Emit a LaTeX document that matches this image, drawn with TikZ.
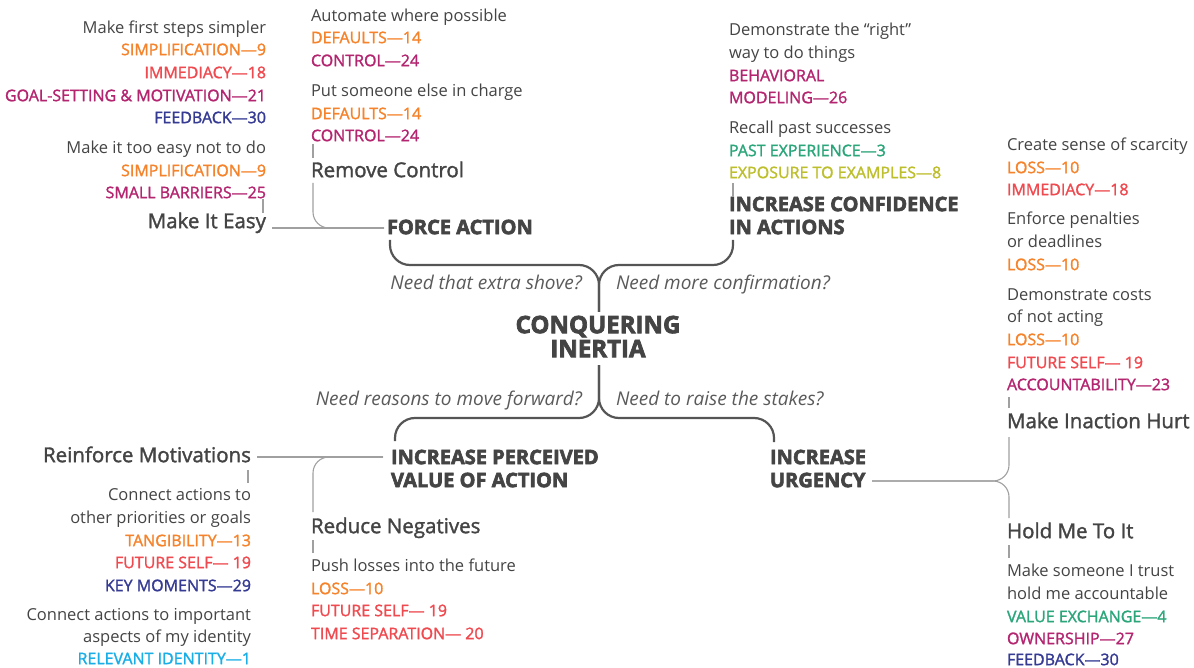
\documentclass[tikz,border=0pt]{standalone}
\usepackage{fontspec}
\setmainfont{Open Sans}
\IfFontExistsTF{Open Sans SemiBold}
  {\newfontfamily\semib{Open Sans SemiBold}}
  {\newfontfamily\semib[FakeBold=1.6]{Open Sans}}
\IfFontExistsTF{Open Sans ExtraBold}
  {\newfontfamily\xbold{Open Sans ExtraBold}}
  {\newfontfamily\xbold[FakeBold=3]{Open Sans Bold}}

\definecolor{ink}{HTML}{444444}
\definecolor{qgray}{HTML}{5A5A5A}
\definecolor{cOr}{HTML}{F5832B}
\definecolor{cRd}{HTML}{EE4A4F}
\definecolor{cMg}{HTML}{B42570}
\definecolor{cNv}{HTML}{353A93}
\definecolor{cGn}{HTML}{2BA57A}
\definecolor{cYl}{HTML}{BDBE2C}
\definecolor{cCy}{HTML}{1AAEE6}
\definecolor{stem}{HTML}{555555}
\definecolor{twigc}{HTML}{A0A0A0}

\tikzset{
  base/.style={inner sep=0pt, outer sep=0pt, yshift=-3.5pt},
  tx/.style={base, text=ink, font=\fontsize{16.5}{19}\selectfont},
  tag/.style={base, font=\semib\fontsize{16}{18}\selectfont},
  tOr/.style={tag, text=cOr},
  tRd/.style={tag, text=cRd},
  tMg/.style={tag, text=cMg},
  tNv/.style={tag, text=cNv},
  tGn/.style={tag, text=cGn},
  tYl/.style={tag, text=cYl},
  tCy/.style={tag, text=cCy},
  sub/.style={base, text=ink, font=\semib\fontsize{20.5}{23}\selectfont},
  head/.style={base, text=ink, font=\xbold\fontsize{20}{23}\selectfont},
  title/.style={base, text=ink, font=\xbold\fontsize{24}{27}\selectfont},
  quest/.style={base, text=qgray, font=\itshape\fontsize{19}{21}\selectfont},
  stemline/.style={draw=stem, line width=2.2pt, rounded corners=20pt},
  twig/.style={draw=twigc, line width=1.1pt, rounded corners=16pt},
}

\begin{document}
\begin{tikzpicture}[x=1pt,y=-1pt]
\useasboundingbox (0,0) rectangle (1194,668);

% ---- centre
\node[title, anchor=mid] (ci1) at (598,327) {CONQUERING};
\node[title, anchor=mid] (ci2) at (598,351) {INERTIA};

% ---- questions
\node[quest, anchor=mid east] (q1) at (582,283) {Need that extra shove?};
\node[quest, anchor=mid west] (q2) at (616,283) {Need more confirmation?};
\node[quest, anchor=mid east] (q3) at (582,399) {Need reasons to move forward?};
\node[quest, anchor=mid west] (q4) at (616,399) {Need to raise the stakes?};

% ---- four strategies
\node[head, anchor=mid west] (force) at (387,228) {FORCE ACTION};
\node[head, anchor=mid west] (conf1) at (729,205) {INCREASE CONFIDENCE};
\node[head, anchor=mid west] (conf2) at (729,228) {IN ACTIONS};
\node[head, anchor=mid west] (val1) at (391,458) {INCREASE PERCEIVED};
\node[head, anchor=mid west] (val2) at (391,481) {VALUE OF ACTION};
\node[head, anchor=mid west] (urg1) at (770,458) {INCREASE};
\node[head, anchor=mid west] (urg2) at (770,481) {URGENCY};

% ---- tactics
\node[sub, anchor=mid east] (easy) at (266,222) {Make It Easy};
\node[sub, anchor=mid west] (remove) at (311,171) {Remove Control};
\node[sub, anchor=mid west] (hurt) at (1007,422) {Make Inaction Hurt};
\node[sub, anchor=mid west] (hold) at (1007,532) {Hold Me To It};
\node[sub, anchor=mid east] (reinf) at (251,456) {Reinforce Motivations};
\node[sub, anchor=mid west] (reduce) at (311,527) {Reduce Negatives};

% ---- detail lists
\foreach \y/\s/\t [count=\i] in {
  27/tx/{Make first steps simpler},
  49/tOr/{SIMPLIFICATION—9},
  72/tRd/{IMMEDIACY—18},
  95/tMg/{GOAL-SETTING \& MOTIVATION—21},
  117/tNv/{FEEDBACK—30},
  147/tx/{Make it too easy not to do},
  170/tOr/{SIMPLIFICATION—9},
  192/tMg/{SMALL BARRIERS—25}}
  \node[\s, anchor=mid east] (ea\i) at (266,\y) {\t};

\foreach \y/\s/\t [count=\i] in {
  15/tx/{Automate where possible},
  37/tOr/{DEFAULTS—14},
  60/tMg/{CONTROL—24},
  90/tx/{Put someone else in charge},
  113/tOr/{DEFAULTS—14},
  135/tMg/{CONTROL—24}}
  \node[\s, anchor=mid west] (rc\i) at (311,\y) {\t};

\foreach \y/\s/\t [count=\i] in {
  29/tx/{Demonstrate the “right”},
  52/tx/{way to do things},
  75/tMg/{BEHAVIORAL},
  97/tMg/{MODELING—26},
  127/tx/{Recall past successes},
  150/tGn/{PAST EXPERIENCE—3},
  172/tYl/{EXPOSURE TO EXAMPLES—8}}
  \node[\s, anchor=mid west] (cf\i) at (729,\y) {\t};

\foreach \y/\s/\t [count=\i] in {
  144/tx/{Create sense of scarcity},
  167/tOr/{LOSS—10},
  189/tRd/{IMMEDIACY—18},
  218/tx/{Enforce penalties},
  241/tx/{or deadlines},
  264/tOr/{LOSS—10},
  294/tx/{Demonstrate costs},
  316/tx/{of not acting},
  339/tOr/{LOSS—10},
  362/tRd/{FUTURE SELF— 19},
  384/tMg/{ACCOUNTABILITY—23}}
  \node[\s, anchor=mid west] (ih\i) at (1007,\y) {\t};

\foreach \y/\s/\t [count=\i] in {
  570/tx/{Make someone I trust},
  593/tx/{hold me accountable},
  616/tGn/{VALUE EXCHANGE—4},
  638/tMg/{OWNERSHIP—27},
  659/tNv/{FEEDBACK—30}}
  \node[\s, anchor=mid west] (hm\i) at (1007,\y) {\t};

\foreach \y/\s/\t [count=\i] in {
  494/tx/{Connect actions to},
  517/tx/{other priorities or goals},
  540/tOr/{TANGIBILITY—13},
  562/tRd/{FUTURE SELF— 19},
  585/tNv/{KEY MOMENTS—29},
  614/tx/{Connect actions to important},
  636/tx/{aspects of my identity},
  658/tCy/{RELEVANT IDENTITY—1}}
  \node[\s, anchor=mid east] (rm\i) at (251,\y) {\t};

\foreach \y/\s/\t [count=\i] in {
  565/tx/{Push losses into the future},
  588/tOr/{LOSS—10},
  610/tRd/{FUTURE SELF— 19},
  633/tRd/{TIME SEPARATION— 20}}
  \node[\s, anchor=mid west] (rn\i) at (311,\y) {\t};

% ---- trunk and braces
\coordinate (top) at (599,312);
\coordinate (bot) at (599,365);
\coordinate (fA) at (390,240);
\coordinate (cA) at (733,240);
\coordinate (vA) at (395,441);
\coordinate (uA) at (774,442);
\draw[stemline] (fA) -- (390,265) -- (599,265) -- (top);
\draw[stemline] (cA) -- (733,265) -- (599,265) -- (top);
\draw[stemline] (bot) -- (599,418) -- (395,418) -- (vA);
\draw[stemline] (bot) -- (599,418) -- (774,418) -- (uA);

% ---- branches to tactics
\coordinate (fIn) at (384,228);
\coordinate (eOut) at (272,228);
\coordinate (rOut) at (313,183);
\draw[twig] (eOut) -- (fIn);
\draw[twig] (rOut) -- (313,228) -- (fIn);

\coordinate (vIn) at (383,457);
\coordinate (mOut) at (257,457);
\coordinate (nOut) at (313,512);
\draw[twig] (mOut) -- (vIn);
\draw[twig] (nOut) -- (313,457) -- (vIn);

\coordinate (uIn) at (872,481);
\coordinate (hOut) at (1009,437);
\coordinate (kOut) at (1009,518);
\draw[twig] (uIn) -- (1009,481) -- (hOut);
\draw[twig] (uIn) -- (1009,481) -- (kOut);

% ---- short ticks between a tactic and its list
\draw[twig] (263,199) -- (263,213);
\draw[twig] (313,144) -- (313,158);
\draw[twig] (733,183) -- (733,197);
\draw[twig] (1009,397) -- (1009,408);
\draw[twig] (1009,545) -- (1009,558);
\draw[twig] (313,540) -- (313,553);
\draw[twig] (248,470) -- (248,483);
\end{tikzpicture}
\end{document}
